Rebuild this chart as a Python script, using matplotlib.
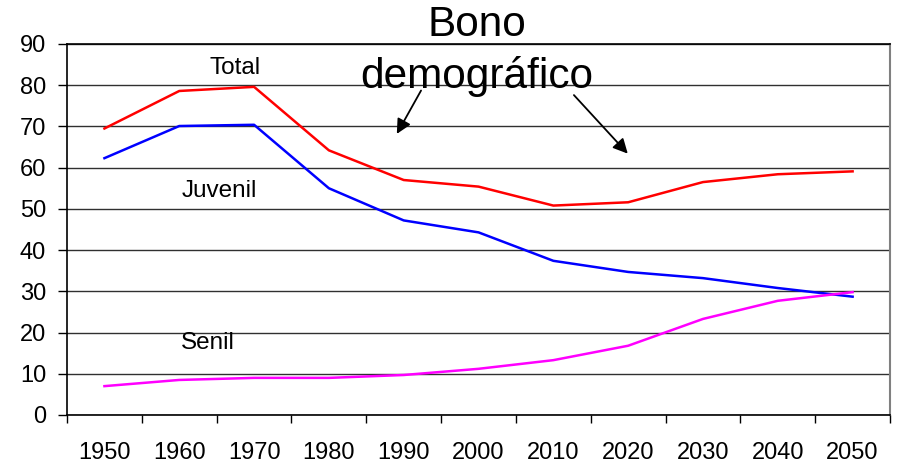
import matplotlib.pyplot as plt
import numpy as np

plt.rcParams['font.family'] = ['Liberation Sans', 'DejaVu Sans']

years = ['1950', '1960', '1970', '1980', '1990', '2000', '2010', '2020', '2030', '2040', '2050']
total = [69.5, 78.6, 79.6, 64.2, 57.0, 55.4, 50.8, 51.6, 56.5, 58.4, 59.1]
juvenil = [62.3, 70.1, 70.4, 55.0, 47.2, 44.3, 37.4, 34.7, 33.2, 30.8, 28.7]
senil = [7.0, 8.5, 9.0, 9.0, 9.7, 11.2, 13.3, 16.8, 23.3, 27.7, 29.8]

fig = plt.figure(figsize=(9.01, 4.63), dpi=100)
ax = fig.add_axes([0.0744, 0.1037, 0.9134, 0.8013])

x = np.arange(len(years))
ax.plot(x, total, color='#ff0000', linewidth=1.8)
ax.plot(x, juvenil, color='#0000ff', linewidth=1.8)
ax.plot(x, senil, color='#ff00ff', linewidth=1.8)

ax.set_xlim(-0.5, len(years) - 0.5)
ax.set_ylim(0, 90)
ax.set_yticks(range(0, 91, 10))
ax.yaxis.grid(True, color='#303030', linewidth=1.0)
ax.set_axisbelow(True)

# category axis: ticks on boundaries, labels in the middle
ax.set_xticks(np.arange(-0.5, len(years), 1.0))
ax.set_xticklabels([])
ax.set_xticks(x, minor=True)
ax.set_xticklabels(years, minor=True)
ax.tick_params(axis='x', which='major', length=6, width=1, direction='out')
ax.tick_params(axis='x', which='minor', length=0, pad=19.5, labelsize=17)
ax.tick_params(axis='y', length=6.5, width=1, labelsize=17, pad=8.5)

for s in ['left', 'bottom', 'top']:
    ax.spines[s].set_color('black')
    ax.spines[s].set_linewidth(1.2)
ax.spines['right'].set_color('#808080')
ax.spines['right'].set_linewidth(1.5)

ax.text(1.74, 84.2, 'Total', fontsize=17.5, ha='center', va='center')
ax.text(1.53, 54.3, 'Juvenil', fontsize=17.5, ha='center', va='center')
ax.text(1.38, 17.5, 'Senil', fontsize=17.5, ha='center', va='center')

fig.text(0.529, 0.945, 'Bono', fontsize=30.5, ha='center', va='center')
fig.text(0.529, 0.834, 'demográfico', fontsize=30.5, ha='center', va='center')

ax.annotate('', xy=(3.89, 67.6), xytext=(4.25, 79.3),
            arrowprops=dict(arrowstyle='-|>', color='black', lw=1.3, mutation_scale=22))
ax.annotate('', xy=(7.02, 62.9), xytext=(6.25, 78.1),
            arrowprops=dict(arrowstyle='-|>', color='black', lw=1.3, mutation_scale=22))

fig.savefig('out.png', dpi=100)
